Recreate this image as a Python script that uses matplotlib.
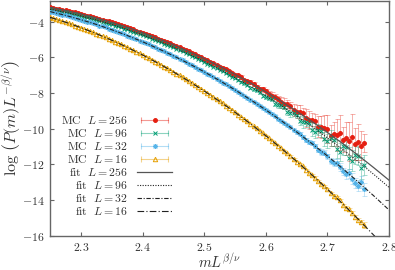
import numpy as np
import matplotlib
matplotlib.use("Agg")
import matplotlib.pyplot as plt
from matplotlib.lines import Line2D
from matplotlib.legend_handler import HandlerLine2D, HandlerTuple

# STYLE
plt.rcParams["mathtext.fontset"] = "cm"
plt.rcParams["font.family"] = ["DejaVu Serif"]

RED = "#e51e10"
GREEN = "#009e73"
BLUE = "#56b4e9"
ORANGE = "#e69f00"
SPINE = "#666666"
TEXT = "#333333"

# DATA
# Monte Carlo points, x = m L^(beta/nu)
mc_x = [2.250, 2.255, 2.260, 2.265, 2.270, 2.275, 2.280, 2.285, 2.290, 2.295,
        2.300, 2.305, 2.310, 2.315, 2.320, 2.325, 2.330, 2.335, 2.340, 2.345,
        2.350, 2.355, 2.360, 2.365, 2.370, 2.375, 2.380, 2.385, 2.390, 2.395,
        2.400, 2.405, 2.410, 2.415, 2.420, 2.425, 2.430, 2.435, 2.440, 2.445,
        2.450, 2.455, 2.460, 2.465, 2.470, 2.475, 2.480, 2.485, 2.490, 2.495,
        2.500, 2.505, 2.510, 2.515, 2.520, 2.525, 2.530, 2.535, 2.540, 2.545,
        2.550, 2.555, 2.560, 2.565, 2.570, 2.575, 2.580, 2.585, 2.590, 2.595,
        2.600, 2.605, 2.610, 2.615, 2.620, 2.625, 2.630, 2.635, 2.640, 2.645,
        2.650, 2.655, 2.660, 2.665, 2.670, 2.675, 2.680, 2.685, 2.690, 2.695,
        2.700, 2.705, 2.710, 2.715, 2.720, 2.725, 2.730, 2.735, 2.740, 2.745,
        2.750, 2.755, 2.760]

mc_256 = [-3.20, -3.23, -3.27, -3.30, -3.34, -3.37, -3.41, -3.45, -3.49, -3.53,
          -3.57, -3.61, -3.66, -3.70, -3.75, -3.80, -3.84, -3.89, -3.94, -3.99,
          -4.04, -4.10, -4.15, -4.21, -4.26, -4.32, -4.38, -4.44, -4.50, -4.56,
          -4.62, -4.68, -4.75, -4.81, -4.88, -4.95, -5.01, -5.08, -5.15, -5.22,
          -5.29, -5.37, -5.44, -5.52, -5.60, -5.67, -5.75, -5.84, -5.91, -5.98,
          -6.07, -6.17, -6.24, -6.32, -6.41, -6.52, -6.60, -6.66, -6.76, -6.88,
          -6.97, -7.02, -7.12, -7.27, -7.35, -7.40, -7.50, -7.66, -7.76, -7.80,
          -7.90, -8.08, -8.17, -8.20, -8.31, -8.52, -8.60, -8.62, -8.72, -8.95,
          -9.05, -9.05, -9.15, -9.42, -9.52, -9.50, -9.58, -9.88, -9.90, -9.95,
          -10.02, -10.40, -10.30, -10.35, -10.22, -10.62, -10.55, -10.70, -10.48, -10.85,
          -10.75, -10.95, -10.80]
err_256 = ([0.02] * 50 + [0.04] * 10
           + [0.08, 0.06, 0.10, 0.08, 0.06, 0.10, 0.12, 0.08, 0.10, 0.12]
           + [0.15, 0.20, 0.25, 0.15, 0.12, 0.30, 0.30, 0.20, 0.20, 0.35]
           + [0.35, 0.40, 0.30, 0.50, 0.50, 0.35, 0.40, 0.60, 0.60, 0.70]
           + [0.80, 0.60, 0.70, 0.90, 1.00, 0.70, 0.90, 1.10, 1.30, 0.90]
           + [1.00, 0.80, 0.50])

mc_96 = [-3.31, -3.34, -3.38, -3.41, -3.45, -3.48, -3.52, -3.56, -3.60, -3.64,
         -3.68, -3.73, -3.77, -3.82, -3.86, -3.91, -3.96, -4.01, -4.06, -4.11,
         -4.16, -4.22, -4.27, -4.33, -4.39, -4.44, -4.50, -4.56, -4.63, -4.69,
         -4.75, -4.82, -4.88, -4.95, -5.02, -5.09, -5.15, -5.23, -5.30, -5.37,
         -5.44, -5.52, -5.60, -5.67, -5.75, -5.83, -5.92, -6.00, -6.07, -6.17,
         -6.25, -6.35, -6.41, -6.52, -6.61, -6.70, -6.77, -6.90, -6.98, -7.08,
         -7.14, -7.29, -7.38, -7.45, -7.53, -7.70, -7.79, -7.85, -7.93, -8.15,
         -8.22, -8.28, -8.35, -8.60, -8.68, -8.70, -8.79, -9.05, -9.15, -9.15,
         -9.22, -9.55, -9.65, -9.60, -9.70, -10.05, -10.18, -10.05, -10.15, -10.60,
         -10.70, -10.50, -10.62, -11.15, -11.30, -11.00, -11.05, -11.65, -11.80, -11.50,
         -11.55, -12.20, -12.05]
err_96 = ([0.02] * 50 + [0.03] * 10
          + [0.05, 0.06, 0.05, 0.08, 0.07, 0.06, 0.08, 0.07, 0.10, 0.08]
          + [0.10, 0.12, 0.12, 0.15, 0.15, 0.12, 0.12, 0.20, 0.20, 0.15]
          + [0.20, 0.25, 0.30, 0.25, 0.25, 0.35, 0.35, 0.30, 0.30, 0.40]
          + [0.40, 0.45, 0.35, 0.50, 0.50, 0.45, 0.45, 0.60, 0.60, 0.50]
          + [0.50, 0.60, 0.55])

mc_32 = [-3.44, -3.48, -3.52, -3.56, -3.61, -3.65, -3.70, -3.74, -3.79, -3.84,
         -3.89, -3.94, -4.00, -4.05, -4.10, -4.16, -4.22, -4.27, -4.33, -4.39,
         -4.46, -4.52, -4.58, -4.65, -4.71, -4.78, -4.85, -4.92, -4.99, -5.06,
         -5.13, -5.20, -5.28, -5.36, -5.43, -5.51, -5.59, -5.67, -5.75, -5.83,
         -5.92, -6.00, -6.09, -6.17, -6.26, -6.35, -6.45, -6.54, -6.63, -6.72,
         -6.82, -6.91, -7.01, -7.11, -7.21, -7.31, -7.42, -7.51, -7.61, -7.73,
         -7.84, -7.93, -8.04, -8.16, -8.27, -8.37, -8.49, -8.61, -8.73, -8.82,
         -8.95, -9.09, -9.20, -9.30, -9.44, -9.58, -9.70, -9.78, -9.93, -10.10,
         -10.21, -10.28, -10.46, -10.62, -10.74, -10.82, -10.99, -11.20, -11.30, -11.35,
         -11.55, -11.80, -11.90, -11.92, -12.15, -12.40, -12.55, -12.50, -12.80, -13.05,
         -13.20, -13.00, -13.40]
err_32 = ([0.02] * 60 + [0.03] * 10 + [0.05] * 10
          + [0.08, 0.08, 0.10, 0.10, 0.10, 0.12, 0.12, 0.12, 0.15, 0.15]
          + [0.15, 0.18, 0.20, 0.20, 0.20, 0.22, 0.25, 0.25, 0.30, 0.30]
          + [0.30, 0.32, 0.35])

mc_16 = [-3.76, -3.81, -3.87, -3.92, -3.98, -4.04, -4.09, -4.15, -4.22, -4.28,
         -4.34, -4.41, -4.47, -4.54, -4.61, -4.68, -4.75, -4.82, -4.89, -4.97,
         -5.05, -5.12, -5.20, -5.28, -5.36, -5.44, -5.53, -5.61, -5.70, -5.78,
         -5.87, -5.96, -6.05, -6.14, -6.24, -6.33, -6.43, -6.52, -6.62, -6.72,
         -6.82, -6.92, -7.02, -7.13, -7.23, -7.34, -7.45, -7.55, -7.67, -7.78,
         -7.89, -8.00, -8.12, -8.24, -8.35, -8.47, -8.59, -8.71, -8.84, -8.96,
         -9.08, -9.21, -9.34, -9.46, -9.59, -9.73, -9.86, -9.99, -10.12, -10.26,
         -10.40, -10.54, -10.67, -10.82, -10.96, -11.10, -11.25, -11.39, -11.53, -11.69,
         -11.85, -11.98, -12.12, -12.30, -12.47, -12.58, -12.74, -12.95, -13.10, -13.20,
         -13.36, -13.60, -13.75, -13.85, -14.02, -14.28, -14.45, -14.52, -14.70, -14.95,
         -15.12, -15.22, -15.40]
err_16 = ([0.02] * 64 + [0.03] * 10 + [0.04] * 10 + [0.06] * 10
          + [0.08, 0.08, 0.10, 0.10, 0.10, 0.12, 0.12, 0.12, 0.15])

# Fit curves
fit_x = [2.250, 2.275, 2.300, 2.325, 2.350, 2.375, 2.400, 2.425, 2.450, 2.475,
         2.500, 2.525, 2.550, 2.575, 2.600, 2.625, 2.650, 2.675, 2.700, 2.725,
         2.750, 2.775, 2.800]
fit_256 = [-3.200, -3.373, -3.571, -3.795, -4.044, -4.319, -4.619, -4.945, -5.296, -5.673,
           -6.075, -6.503, -6.956, -7.435, -7.939, -8.469, -9.024, -9.605, -10.211, -10.843,
           -11.500, -12.183, -12.891]
fit_96 = [-3.310, -3.483, -3.683, -3.910, -4.164, -4.444, -4.751, -5.084, -5.444, -5.831,
          -6.245, -6.685, -7.152, -7.646, -8.167, -8.714, -9.288, -9.888, -10.515, -11.169,
          -11.850, -12.557, -13.291]
fit_32 = [-3.440, -3.652, -3.892, -4.159, -4.455, -4.778, -5.130, -5.510, -5.917, -6.353,
          -6.816, -7.308, -7.827, -8.375, -8.950, -9.553, -10.185, -10.844, -11.532, -12.247,
          -12.990, -13.761, -14.560]
fit_16 = [-3.760, -4.035, -4.341, -4.678, -5.045, -5.442, -5.871, -6.329, -6.819, -7.339,
          -7.889, -8.471, -9.082, -9.725, -10.398, -11.101, -11.835, -12.600, -13.395, -14.221,
          -15.078, -15.965, -16.878]

x_ticks = [2.3, 2.4, 2.5, 2.6, 2.7, 2.8]
x_tick_labels = [r"$2.3$", r"$2.4$", r"$2.5$", r"$2.6$", r"$2.7$", r"$2.8$"]
y_ticks = [-4, -6, -8, -10, -12, -14, -16]
y_tick_labels = [r"$-4$", r"$-6$", r"$-8$", r"$-10$", r"$-12$", r"$-14$", r"$-16$"]

# GRAPH
fig = plt.figure(figsize=(3.95, 2.70), dpi=100)
ax = fig.add_axes([0.127, 0.127, 0.858, 0.869])

mc_series = [
    (mc_256, err_256, RED, "o", RED, 2.8, r"$\mathrm{MC}\ \ L = 256$"),
    (mc_96, err_96, GREEN, "x", GREEN, 3.2, r"$\mathrm{MC}\ \ L = 96$"),
    (mc_32, err_32, BLUE, (8, 2, 0), BLUE, 3.6, r"$\mathrm{MC}\ \ L = 32$"),
    (mc_16, err_16, ORANGE, "^", "none", 3.2, r"$\mathrm{MC}\ \ L = 16$"),
]

handles = []
labels = []
handler_map = {}
for values, errs, color, marker, face, size, label in mc_series:
    ax.errorbar(mc_x, values, yerr=errs, fmt="none", ecolor=color, alpha=0.35,
                elinewidth=0.7, capsize=1.8, capthick=0.7, zorder=2)
    ax.plot(mc_x, values, ls="none", marker=marker, color=color, mfc=face,
            mec=color, markersize=size, markeredgewidth=0.7, zorder=3)
    bar = Line2D([], [], color=color, alpha=0.45, lw=0.8, marker="|", markersize=4,
                 markeredgewidth=0.8)
    point = Line2D([], [], ls="none", marker=marker, color=color, mfc=face, mec=color,
                   markersize=size, markeredgewidth=0.7)
    handler_map[bar] = HandlerLine2D(numpoints=2)
    handler_map[point] = HandlerLine2D(numpoints=1)
    handles.append((bar, point))
    labels.append(label)

fit_series = [
    (fit_256, "-", 0.9, "#555555", r"$\mathrm{fit}\ \ L = 256$"),
    (fit_96, (0, (1, 1.3)), 0.8, "#222222", r"$\mathrm{fit}\ \ L = 96$"),
    (fit_32, (0, (4, 1.5, 1, 1.5)), 0.8, "#222222", r"$\mathrm{fit}\ \ L = 32$"),
    (fit_16, (0, (6, 2, 1, 2)), 0.8, "#222222", r"$\mathrm{fit}\ \ L = 16$"),
]
for values, style, width, color, label in fit_series:
    line, = ax.plot(fit_x, values, ls=style, lw=width, color=color, zorder=4)
    handles.append(line)
    labels.append(label)

for h in handles[:4]:
    handler_map[h] = HandlerTuple(ndivide=1, pad=0)

leg = ax.legend(handles, labels, handler_map=handler_map, loc="lower right",
                bbox_to_anchor=(0.362, 0.07), frameon=False, markerfirst=False,
                fontsize=8.5, handlelength=2.9, handletextpad=0.8, labelspacing=0.0,
                borderaxespad=0, borderpad=0.1)
for t in leg.get_texts():
    t.set_color(TEXT)

# Axes limits and ticks
ax.set_xlim(2.25, 2.8)
ax.set_ylim(-16, -2.85)
ax.set_xticks(x_ticks, labels=x_tick_labels)
ax.set_yticks(y_ticks, labels=y_tick_labels)
ax.tick_params(direction="in", top=True, right=True, length=3, width=0.8,
               color=SPINE, labelsize=8.5, labelcolor=TEXT, pad=4)
for side in ["top", "bottom", "left", "right"]:
    ax.spines[side].set_color(SPINE)
    ax.spines[side].set_linewidth(1.0)

ax.set_xlabel(r"$mL^{\beta/\nu}$", fontsize=10.5, color=TEXT, labelpad=-1)
ax.set_ylabel(r"$\log\,\left(P(m)L^{-\beta/\nu}\right)$", fontsize=11.5, color=TEXT,
              labelpad=-1)

fig.savefig("out.png", dpi=100)
